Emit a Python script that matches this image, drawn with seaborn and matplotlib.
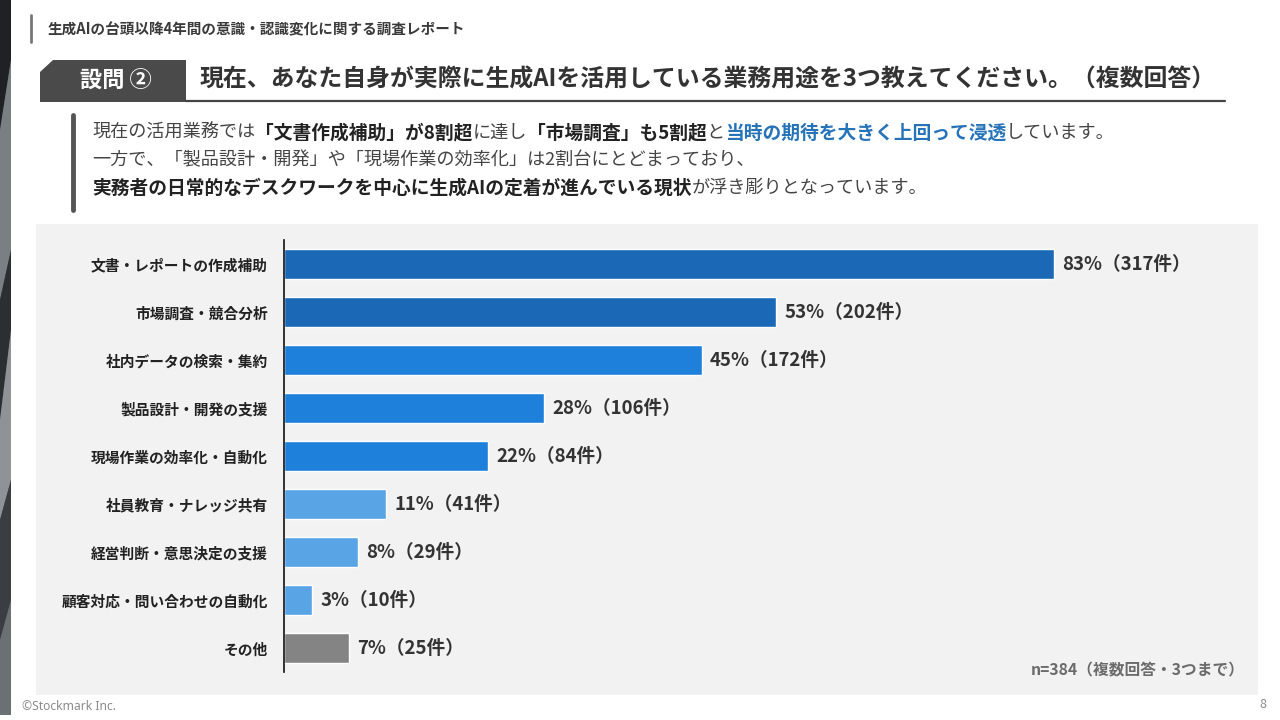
import matplotlib
matplotlib.use("Agg")
import matplotlib.pyplot as plt
from matplotlib.patches import Polygon, Rectangle
import pandas as pd
import seaborn as sns

# data
categories = [
    "文書・レポートの作成補助",
    "市場調査・競合分析",
    "社内データの検索・集約",
    "製品設計・開発の支援",
    "現場作業の効率化・自動化",
    "社員教育・ナレッジ共有",
    "経営判断・意思決定の支援",
    "顧客対応・問い合わせの自動化",
    "その他",
]
percents = [83, 53, 45, 28, 22, 11, 8, 3, 7]
counts = [317, 202, 172, 106, 84, 41, 29, 10, 25]
bar_colors = ["#1b69b6", "#1b69b6", "#1f80dc", "#1f80dc", "#1f80dc",
              "#59a4e5", "#59a4e5", "#59a4e5", "#848484"]

header = "生成AIの台頭以降4年間の意識・認識変化に関する調査レポート"
question_tag = "設問 ②"
question = "現在、あなた自身が実際に生成AIを活用している業務用途を3つ教えてください。（複数回答）"
note = "n=384（複数回答・3つまで）"

# summary lines: (text, bold, colour)
summary = [
    [("現在の活用業務では", False, "#444444"), ("「文書作成補助」が8割超", True, "#222222"),
     ("に達し", False, "#444444"), ("「市場調査」も5割超", True, "#222222"),
     ("と", False, "#444444"), ("当時の期待を大きく上回って浸透", True, "#2673b8"),
     ("しています。", False, "#444444")],
    [("一方で、「製品設計・開発」や「現場作業の効率化」は2割台にとどまっており、", False, "#444444")],
    [("実務者の日常的なデスクワークを中心に生成AIの定着が進んでいる現状", True, "#222222"),
     ("が浮き彫りとなっています。", False, "#444444")],
]

sns.set_style("white")
plt.rcParams["font.family"] = ["Noto Sans CJK JP", "DejaVu Sans"]

W, H = 1280, 720
fig = plt.figure(figsize=(12.8, 7.2), dpi=100)
fig.patch.set_facecolor("white")

# full-page layer in pixel coordinates
bg = fig.add_axes([0, 0, 1, 1], zorder=0)
bg.set_xlim(0, W)
bg.set_ylim(H, 0)
bg.axis("off")

# left decorative strip
bg.add_patch(Rectangle((0, 0), 11, 715, color="#4a4e52", lw=0))
strip = [
    ([(0, 0), (11, 0), (11, 60), (0, 130)], "#1f2124"),
    ([(0, 130), (11, 60), (11, 250), (0, 300)], "#7a7f84"),
    ([(0, 300), (11, 250), (11, 330), (0, 420)], "#2c2f32"),
    ([(0, 420), (11, 330), (11, 480), (0, 520)], "#8f9398"),
    ([(0, 520), (11, 480), (11, 600), (0, 640)], "#3a3e42"),
    ([(0, 640), (11, 600), (11, 715), (0, 715)], "#6b7075"),
]
for pts, c in strip:
    bg.add_patch(Polygon(pts, closed=True, color=c, lw=0))

# header
bg.plot([31, 31], [15, 42], color="#777777", lw=2)
bg.text(48, 29, header, fontsize=10.5, fontweight="bold", color="#3a3a3a", va="center")

# question band
bg.add_patch(Polygon([(53, 60), (186, 60), (186, 102), (40, 102), (40, 72)],
                     closed=True, color="#4a4a4a", lw=0))
bg.text(80, 81, question_tag, fontsize=16, fontweight="bold", color="white", va="center")
bg.text(200, 80, question, fontsize=17.2, fontweight="bold", color="#333333", va="center")
bg.plot([186, 1225], [101, 101], color="#444444", lw=1.6)

# summary block
bg.plot([73, 73], [115, 210], color="#555555", lw=3.5, solid_capstyle="round")
renderer = fig.canvas.get_renderer()
for row, line in enumerate(summary):
    x = 92
    y = 133 + row * 27.5
    for txt, bold, col in line:
        t = bg.text(x, y, txt, fontsize=13.5 if bold else 13.1,
                    fontweight="bold" if bold else "normal", color=col, va="center")
        x += t.get_window_extent(renderer).width

# chart panel
bg.add_patch(Rectangle((36, 224), 1222, 471, color="#f2f2f2", lw=0))
bg.text(1245, 670, note, fontsize=11.3, fontweight="bold", color="#6b6b6b",
        ha="right", va="center")
bg.text(22, 707, "©Stockmark Inc.", fontsize=8.7, color="#8a8a8a", va="center",
        family=["Noto Sans", "DejaVu Sans"])
bg.text(1266, 705, "8", fontsize=9, color="#8a8a8a", ha="right", va="center")

# bar chart
df = pd.DataFrame({"category": categories, "percent": percents, "count": counts})
ax = fig.add_axes([284 / W, 1 - 672 / H, (1212 - 284) / W, 432 / H], zorder=1)
ax.patch.set_alpha(0)
sns.barplot(data=df, x="percent", y="category", hue="category", palette=bar_colors,
            legend=False, orient="h", width=0.62, saturation=1, ax=ax)
ax.set_xlim(0, 100)
ax.set_ylim(len(categories) - 0.5, -0.5)
ax.set_xlabel("")
ax.set_ylabel("")
ax.set_xticks([])
for side in ["top", "right", "bottom"]:
    ax.spines[side].set_visible(False)
ax.spines["left"].set_color("#111111")
ax.spines["left"].set_linewidth(1.2)
ax.tick_params(axis="y", length=0, pad=11.5)
for lab in ax.get_yticklabels():
    lab.set_fontsize(10.6)
    lab.set_fontweight("bold")
    lab.set_color("#222222")

for i, (p, n) in enumerate(zip(percents, counts)):
    ax.annotate(f"{p}%（{n}件）", xy=(p, i), xytext=(6, 0), textcoords="offset points",
                va="center", ha="left", fontsize=13.4, fontweight="bold", color="#333333")

fig.savefig("out.png", dpi=100)
